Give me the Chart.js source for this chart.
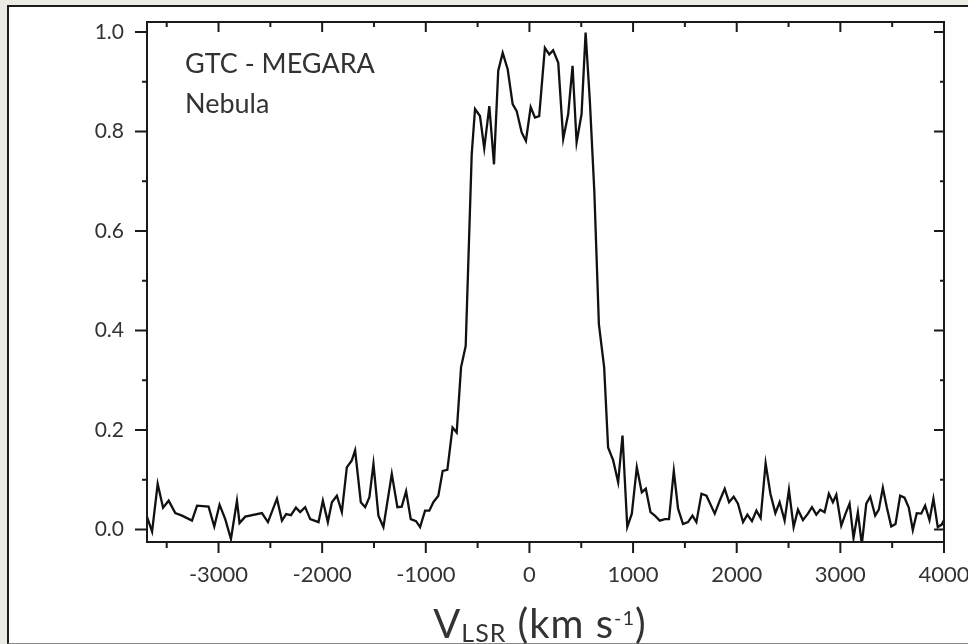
<!DOCTYPE html>
<html>
<head>
<meta charset="utf-8">
<script src="https://cdn.jsdelivr.net/npm/chart.js"></script>
<style>
  body { margin: 0; background: #ebebe4; width: 968px; height: 644px; overflow: hidden; position: relative; font-family: Lato, "Open Sans", sans-serif; }
  #panel { position: absolute; left: 7px; top: 5px; width: 1000px; height: 636px; background: #fff; border-left: 2px solid #1c1c1c; border-top: 2px solid #1c1c1c; border-bottom: 1px solid #888; }
  #grafico { position: absolute; left: 0; top: 0; }
  .texto { position: absolute; color: #333; white-space: nowrap; line-height: 1; }
</style>
</head>
<body>
<div id="panel"></div>
<canvas id="grafico" width="968" height="644"></canvas>
<div class="texto" style="left:185px; top:49px; font-size:27px;">GTC - MEGARA</div>
<div class="texto" style="left:185px; top:89px; font-size:27px;">Nebula</div>
<div class="texto" id="tituloX" style="left:340px; width:400px; text-align:center; top:603px; font-size:40px; letter-spacing:1px;">V<span style="font-size:25px; position:relative; top:4px;">LSR</span> (km s<span style="font-size:20px; position:relative; top:-13px;">-1</span>)</div>

<script>
let velocidad = [
  -3689, -3641, -3587, -3535, -3481, -3417, -3352, -3256, -3207, -3096,
  -3041, -2990, -2935, -2880, -2822, -2797, -2742, -2581, -2523, -2436,
  -2388, -2347, -2301, -2253, -2212, -2164, -2115, -2035, -1993, -1945,
  -1906, -1858, -1810, -1762, -1714, -1682, -1627, -1585, -1544, -1505,
  -1457, -1409, -1328, -1274, -1232, -1190, -1145, -1094, -1055, -1007,
  -966, -927, -879, -837, -792, -742, -702, -660, -615, -557,
  -525, -477, -436, -387, -342, -301, -258, -210, -162, -123,
  -75, -34, 12, 53, 94, 149, 191, 229, 278, 326,
  374, 416, 455, 503, 542, 583, 626, 670, 721, 759,
  808, 856, 898, 944, 988, 1036, 1084, 1123, 1168, 1210,
  1258, 1306, 1347, 1393, 1434, 1482, 1530, 1573, 1611, 1660,
  1708, 1788, 1836, 1884, 1926, 1971, 2012, 2061, 2103, 2147,
  2190, 2231, 2279, 2325, 2373, 2414, 2462, 2504, 2549, 2591,
  2639, 2687, 2726, 2768, 2806, 2848, 2889, 2928, 2961, 3009,
  3050, 3089, 3127, 3169, 3207, 3250, 3288, 3336, 3371, 3410,
  3448, 3491, 3532, 3577, 3619, 3660, 3699, 3737, 3780, 3818,
  3860, 3898, 3940, 3978, 4000
];
let flujo = [
  0.025, -0.004, 0.092, 0.044, 0.058, 0.033, 0.028, 0.018, 0.048, 0.046,
  0.006, 0.050, 0.021, -0.019, 0.058, 0.013, 0.026, 0.033, 0.015, 0.062,
  0.018, 0.031, 0.029, 0.044, 0.035, 0.045, 0.021, 0.015, 0.058, 0.015,
  0.055, 0.068, 0.035, 0.125, 0.139, 0.159, 0.055, 0.045, 0.065, 0.132,
  0.028, 0.005, 0.112, 0.045, 0.046, 0.077, 0.021, 0.017, 0.005, 0.038,
  0.038, 0.055, 0.068, 0.118, 0.120, 0.205, 0.195, 0.326, 0.369, 0.754,
  0.845, 0.831, 0.766, 0.851, 0.734, 0.922, 0.958, 0.925, 0.855, 0.841,
  0.798, 0.781, 0.849, 0.828, 0.831, 0.968, 0.955, 0.963, 0.938, 0.785,
  0.835, 0.932, 0.778, 0.835, 0.999, 0.861, 0.680, 0.413, 0.326, 0.165,
  0.139, 0.095, 0.189, 0.005, 0.032, 0.125, 0.075, 0.082, 0.035, 0.028,
  0.018, 0.021, 0.021, 0.118, 0.042, 0.011, 0.015, 0.028, 0.015, 0.072,
  0.068, 0.032, 0.058, 0.082, 0.055, 0.066, 0.052, 0.015, 0.030, 0.017,
  0.038, 0.023, 0.133, 0.072, 0.033, 0.055, 0.018, 0.080, 0.005, 0.040,
  0.019, 0.032, 0.045, 0.030, 0.040, 0.035, 0.072, 0.055, 0.070, 0.008,
  0.032, 0.052, -0.017, 0.035, -0.030, 0.052, 0.066, 0.028, 0.040, 0.084,
  0.045, 0.006, 0.011, 0.068, 0.064, 0.044, -0.001, 0.033, 0.032, 0.048,
  0.019, 0.062, 0.005, 0.010, 0.019
];
let rangoX = [-3690, 4000];
let rangoY = [-0.025, 1.02];
// marcas de los ejes: las mayores llevan etiqueta
let marcasX = [-3500, -3000, -2500, -2000, -1500, -1000, -500, 0, 500, 1000, 1500, 2000, 2500, 3000, 3500, 4000];
let etiquetasX = [-3000, -2000, -1000, 0, 1000, 2000, 3000, 4000];
let marcasY = [0, 0.1, 0.2, 0.3, 0.4, 0.5, 0.6, 0.7, 0.8, 0.9, 1.0];
let etiquetasY = [0, 0.2, 0.4, 0.6, 0.8, 1.0];

let puntos = velocidad.map(function (v, i) { return { x: v, y: flujo[i] }; });

function esMayorX(v) { return etiquetasX.indexOf(v) >= 0; }
function esMayorY(v) { return etiquetasY.some(function (e) { return Math.abs(e - v) < 1e-6; }); }

// marco y marcas de los ejes (mayores y menores)
const marcasEjes = {
  id: 'marcasEjes',
  afterDraw: function (chart) {
    const ctx = chart.ctx;
    const a = chart.chartArea;
    const x = chart.scales.x;
    const y = chart.scales.y;
    ctx.save();
    ctx.strokeStyle = '#1a1a1a';
    ctx.lineWidth = 2;
    ctx.strokeRect(a.left, a.top, a.right - a.left, a.bottom - a.top);
    ctx.beginPath();
    x.ticks.forEach(function (t) {
      let px = x.getPixelForValue(t.value);
      let mayor = esMayorX(t.value);
      ctx.moveTo(px, a.bottom); ctx.lineTo(px, a.bottom + (mayor ? 11 : 6));
      ctx.moveTo(px, a.top); ctx.lineTo(px, a.top + (mayor ? 10 : 5));
    });
    y.ticks.forEach(function (t) {
      let py = y.getPixelForValue(t.value);
      let mayor = esMayorY(t.value);
      ctx.moveTo(a.left, py); ctx.lineTo(a.left - (mayor ? 12 : 5), py);
      ctx.moveTo(a.right, py); ctx.lineTo(a.right - (mayor ? 10 : 4), py);
    });
    ctx.stroke();
    ctx.restore();
  }
};

const ctx = document.getElementById('grafico');
const grafico = new Chart(ctx, {
  type: 'line',
  data: {
    datasets: [{
      label: 'Nebula',
      data: puntos,
      borderColor: '#111',
      borderWidth: 2.3,
      pointRadius: 0,
      tension: 0,
      fill: false
    }]
  },
  options: {
    responsive: false,
    animation: false,
    devicePixelRatio: 1,
    layout: { padding: { left: 0, right: 24, top: 22, bottom: 0 } },
    plugins: { legend: { display: false }, tooltip: { enabled: false } },
    scales: {
      x: {
        type: 'linear',
        min: rangoX[0],
        max: rangoX[1],
        grid: { display: false, drawTicks: false },
        border: { display: false },
        afterBuildTicks: function (s) { s.ticks = marcasX.map(function (v) { return { value: v }; }); },
        ticks: {
          autoSkip: false,
          maxRotation: 0,
          padding: 20,
          color: '#333',
          font: { family: 'Lato', size: 22 },
          callback: function (v) { return esMayorX(v) ? String(v) : ''; }
        },
        afterFit: function (s) { s.height = 102; s.paddingLeft = 0; s.paddingRight = 0; }
      },
      y: {
        min: rangoY[0],
        max: rangoY[1],
        grid: { display: false, drawTicks: false },
        border: { display: false },
        afterBuildTicks: function (s) { s.ticks = marcasY.map(function (v) { return { value: v }; }); },
        ticks: {
          autoSkip: false,
          padding: 23,
          color: '#333',
          font: { family: 'Lato', size: 21 },
          callback: function (v) { return esMayorY(v) ? v.toFixed(1) : ''; }
        },
        afterFit: function (s) { s.width = 147; s.paddingTop = 0; s.paddingBottom = 0; }
      }
    }
  },
  plugins: [marcasEjes]
}); //fin del chart
</script>
</body>
</html>
